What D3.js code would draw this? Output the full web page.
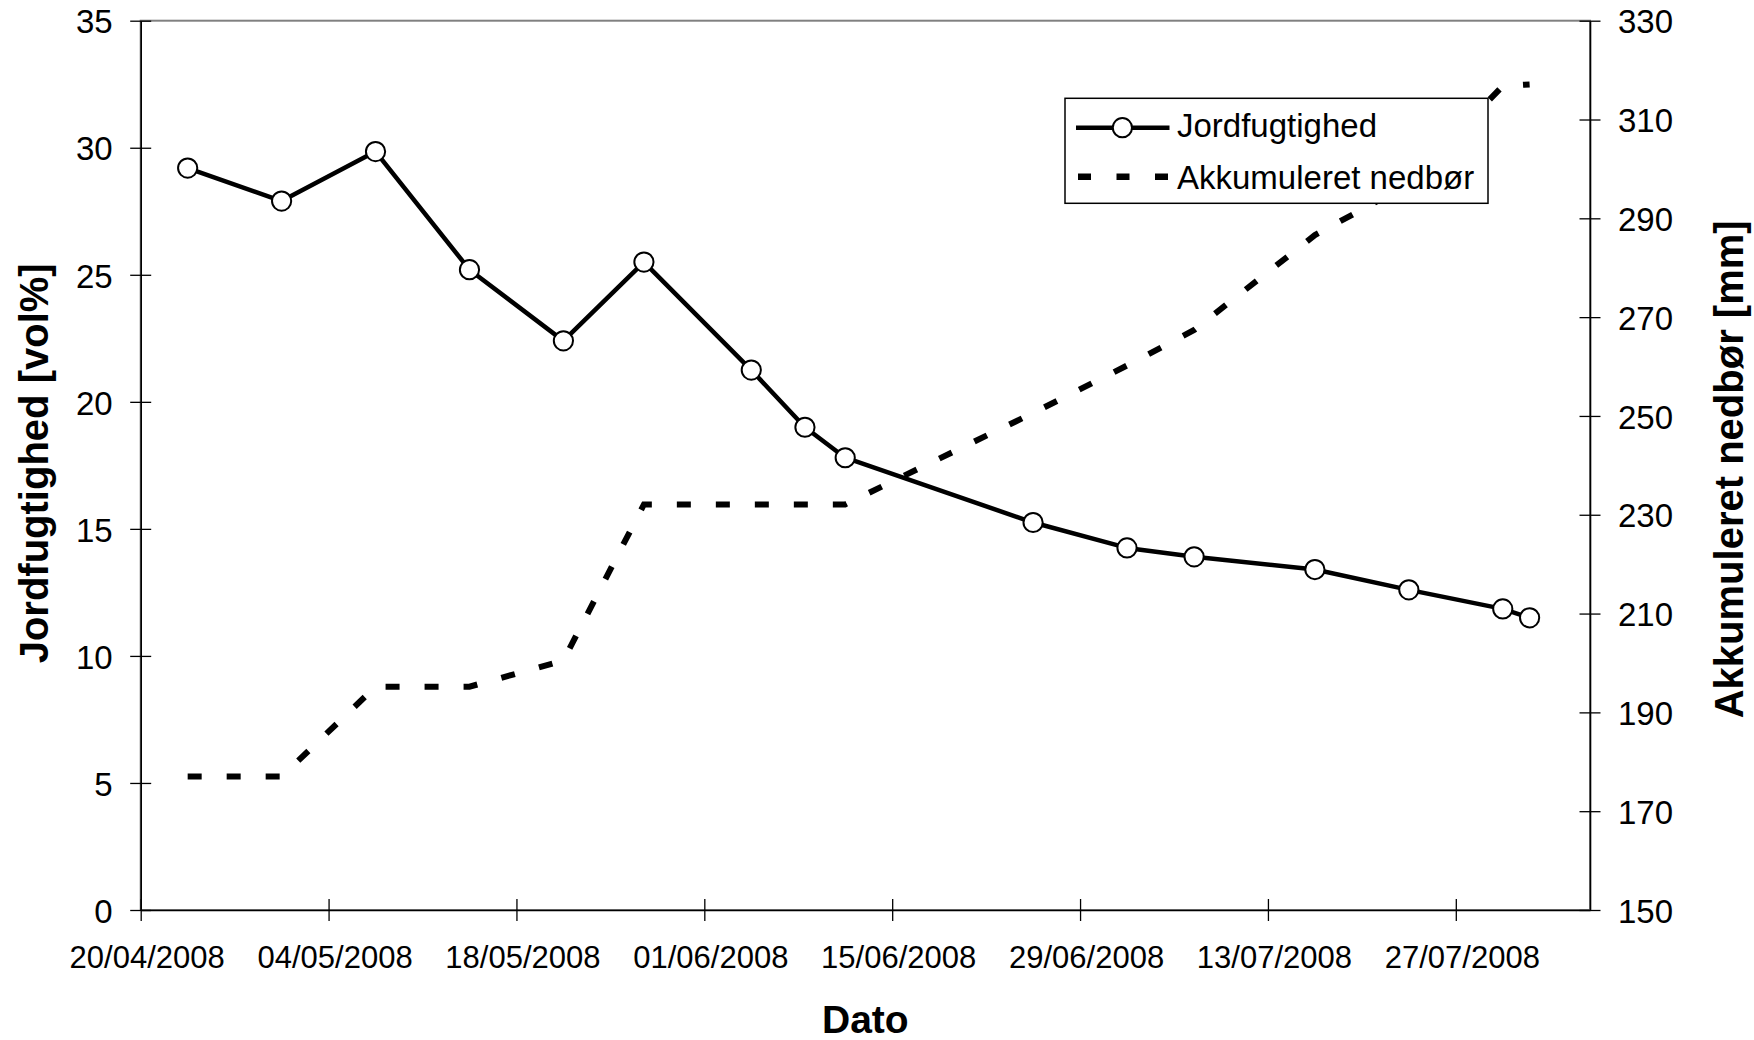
<!DOCTYPE html>
<html>
<head>
<meta charset="utf-8">
<script src="https://cdn.jsdelivr.net/npm/d3@7"></script>
<style>
  body { margin: 0; background: #fff; }
  text { font-family: Arial, "Liberation Sans", sans-serif; fill: #000; }
</style>
</head>
<body>
<div id="chart"></div>
<script>
// måledatoer
const dates = ["2008-04-23","2008-04-30","2008-05-07","2008-05-14","2008-05-21","2008-05-27",
               "2008-06-04","2008-06-08","2008-06-11","2008-06-25","2008-07-02","2008-07-07",
               "2008-07-16","2008-07-23","2008-07-30","2008-08-01"];
// jordfugtighed [vol%]
const moisture = [29.2, 27.9, 29.85, 25.2, 22.4, 25.5, 21.25, 19.0, 17.8, 15.25, 14.25, 13.9,
                  13.4, 12.6, 11.85, 11.5];
// akkumuleret nedbør [mm]
const rain = [177.0, 177.0, 195.2, 195.2, 200.5, 232.1, 232.1, 232.1, 232.1, 250.6, 260.2, 267.4,
              286.6, 297.0, 316.8, 317.1];

const xTicks = ["2008-04-20","2008-05-04","2008-05-18","2008-06-01","2008-06-15","2008-06-29","2008-07-13","2008-07-27"];
const xDomain = ["2008-04-20","2008-08-06"];
const leftTicks = [0, 5, 10, 15, 20, 25, 30, 35];
const rightTicks = [150, 170, 190, 210, 230, 250, 270, 290, 310, 330];

var width = 1754, height = 1040;
var margin = {top: 20.7, right: 164, bottom: 130, left: 140.7};
var innerwidth = width - margin.left - margin.right;
var innerheight = height - margin.top - margin.bottom;

const parse = d3.timeParse("%Y-%m-%d");
const fmt = d3.timeFormat("%d/%m/%Y");

// Excel-datoakse: punkterne ligger midt i dagen
const data = dates.map((d, i) => ({
    date: d3.timeHour.offset(parse(d), 12),
    m: moisture[i],
    r: rain[i]
}));

const svg = d3.select("#chart").append("svg")
    .attr("width", width)
    .attr("height", height);

svg.append("rect").attr("width", width).attr("height", height).attr("fill", "#fff");

const g = svg.append("g")
    .attr("transform", "translate(" + margin.left + "," + margin.top + ")");

const xscale = d3.scaleTime()
    .domain(xDomain.map(parse))
    .range([0, innerwidth]);

const yleft = d3.scaleLinear().domain([0, 35]).range([innerheight, 0]);
const yright = d3.scaleLinear().domain([150, 330]).range([innerheight, 0]);

// plotområdets ramme
g.append("rect")
    .attr("width", innerwidth)
    .attr("height", innerheight)
    .attr("fill", "none")
    .attr("stroke", "#808080")
    .attr("stroke-width", 2);

// akser
const xaxisG = g.append("g")
    .attr("transform", "translate(0," + innerheight + ")")
    .call(d3.axisBottom(xscale)
        .tickValues(xTicks.map(parse))
        .tickFormat(fmt)
        .tickSizeInner(11)
        .tickSizeOuter(0)
        .tickPadding(36));
xaxisG.selectAll(".tick line").attr("y1", -11);
xaxisG.selectAll(".tick text")
    .attr("font-size", "31px")
    .attr("dx", 6)
    .attr("dy", 0)
    .attr("y", 58);

const yleftG = g.append("g")
    .call(d3.axisLeft(yleft)
        .tickValues(leftTicks)
        .tickSizeInner(10.5)
        .tickSizeOuter(0)
        .tickPadding(17));
yleftG.selectAll(".tick line").attr("x1", 10.5);
yleftG.selectAll(".tick text")
    .attr("font-size", "33px")
    .attr("x", -28)
    .attr("dy", "0.37em");

const yrightG = g.append("g")
    .attr("transform", "translate(" + innerwidth + ",0)")
    .call(d3.axisRight(yright)
        .tickValues(rightTicks)
        .tickSizeInner(10.5)
        .tickSizeOuter(0)
        .tickPadding(17));
yrightG.selectAll(".tick line").attr("x1", -10.5);
yrightG.selectAll(".tick text")
    .attr("font-size", "33px")
    .attr("x", 28)
    .attr("dy", "0.37em");

[xaxisG, yleftG, yrightG].forEach(a => {
    a.select(".domain").attr("stroke", "#000").attr("stroke-width", 1.6);
    a.selectAll(".tick line").attr("stroke", "#000").attr("stroke-width", 1.3);
});

// nedbør (stiplet)
g.append("path")
    .datum(data)
    .attr("fill", "none")
    .attr("stroke", "#000")
    .attr("stroke-width", 6)
    .attr("stroke-dasharray", "14,25")
    .attr("d", d3.line().x(d => xscale(d.date)).y(d => yright(d.r)));

// jordfugtighed
g.append("path")
    .datum(data)
    .attr("fill", "none")
    .attr("stroke", "#000")
    .attr("stroke-width", 4.5)
    .attr("stroke-linejoin", "round")
    .attr("d", d3.line().x(d => xscale(d.date)).y(d => yleft(d.m)));

g.selectAll(".pt")
    .data(data)
    .enter()
    .append("circle")
    .attr("class", "pt")
    .attr("cx", d => xscale(d.date))
    .attr("cy", d => yleft(d.m))
    .attr("r", 9.6)
    .attr("fill", "#fff")
    .attr("stroke", "#000")
    .attr("stroke-width", 2);

// aksetitler
svg.append("text")
    .attr("x", margin.left + innerwidth / 2)
    .attr("y", 1033)
    .attr("text-anchor", "middle")
    .attr("font-weight", "bold")
    .attr("font-size", "39px")
    .text("Dato");

svg.append("text")
    .attr("transform", "translate(48," + (margin.top + innerheight / 2 - 2) + ") rotate(-90)")
    .attr("text-anchor", "middle")
    .attr("font-weight", "bold")
    .attr("font-size", "40px")
    .text("Jordfugtighed [vol%]");

svg.append("text")
    .attr("transform", "translate(1743," + (margin.top + innerheight / 2 + 4) + ") rotate(-90)")
    .attr("text-anchor", "middle")
    .attr("font-weight", "bold")
    .attr("font-size", "40px")
    .text("Akkumuleret nedbør [mm]");

// forklaring
const legend = svg.append("g").attr("transform", "translate(1065,98.3)");
legend.append("rect")
    .attr("width", 423)
    .attr("height", 105)
    .attr("fill", "#fff")
    .attr("stroke", "#000")
    .attr("stroke-width", 1.5);

legend.append("line")
    .attr("x1", 11).attr("x2", 104.5)
    .attr("y1", 29.4).attr("y2", 29.4)
    .attr("stroke", "#000").attr("stroke-width", 4.5);
legend.append("circle")
    .attr("cx", 57.4).attr("cy", 29.4).attr("r", 9.6)
    .attr("fill", "#fff").attr("stroke", "#000").attr("stroke-width", 2);
legend.append("text")
    .attr("x", 112).attr("y", 38.4)
    .attr("font-size", "33px")
    .text("Jordfugtighed");

legend.append("line")
    .attr("x1", 13).attr("x2", 104)
    .attr("y1", 78.4).attr("y2", 78.4)
    .attr("stroke", "#000").attr("stroke-width", 6.5)
    .attr("stroke-dasharray", "13,25.5");
legend.append("text")
    .attr("x", 112).attr("y", 91)
    .attr("font-size", "33px")
    .text("Akkumuleret nedbør");
</script>
</body>
</html>
